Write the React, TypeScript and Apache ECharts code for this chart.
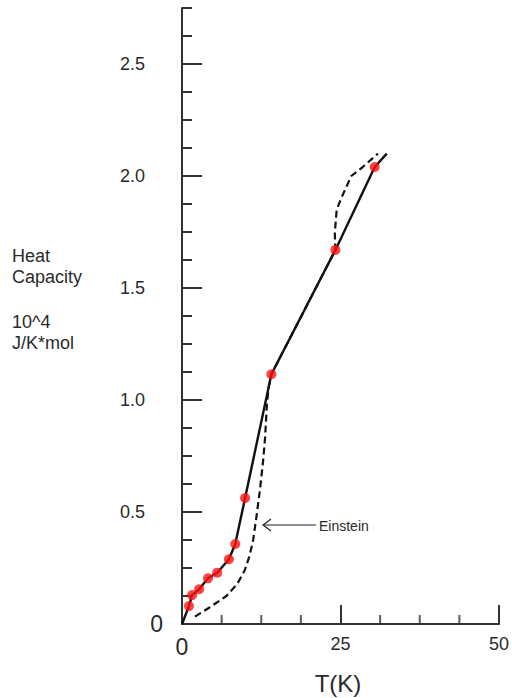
import React, { useEffect, useRef } from "react";
import * as echarts from "echarts";

// Measured heat capacity points (T in K, C in 10^4 J/K*mol)
const measuredT = [1.1, 1.6, 2.7, 4.1, 5.55, 7.4, 8.4, 9.95, 14.1, 24.2, 30.4];
const measuredC = [0.08, 0.129, 0.155, 0.204, 0.229, 0.289, 0.357, 0.5625, 1.115, 1.67, 2.04];

// Solid curve through the data
const fitT = [0, 1.1, 1.6, 2.7, 4.1, 5.55, 7.4, 8.4, 9.95, 14.1, 24.2, 30.4, 32.3];
const fitC = [0, 0.08, 0.129, 0.155, 0.204, 0.229, 0.289, 0.357, 0.5625, 1.115, 1.67, 2.04, 2.1];

// Einstein model (dashed)
const einT = [2.05, 4.4, 7.0, 8.7, 9.9, 10.6, 11.2, 11.7, 12.3, 12.8, 13.1, 13.4, 13.7, 14.1, 24.2, 24.1, 24.4, 25.1, 26.7, 28.5, 30.9];
const einC = [0.033, 0.075, 0.125, 0.178, 0.24, 0.3, 0.37, 0.47, 0.6, 0.73, 0.83, 0.985, 1.06, 1.115, 1.67, 1.744, 1.85, 1.9, 2.0, 2.04, 2.1];

// Axis ticks
const yMajorTicks = [0, 0.5, 1, 1.5, 2, 2.5];
const xMajorTicks = [0, 25, 50];
const xMinorTicks = [6.25, 12.5, 18.75, 31.25, 37.5, 43.75];

const FONT = "'Liberation Sans', Arial, sans-serif";
const TXT = "#2a2a2a";

export default function App() {
  const ref = useRef<HTMLDivElement>(null);

  useEffect(() => {
    if (!ref.current) return;
    const chart = echarts.init(ref.current, null, { renderer: "svg" });
    const zip = (a: number[], b: number[]) => a.map((v, i) => [v, b[i]]);

    chart.setOption({
      animation: false,
      backgroundColor: "#ffffff",
      grid: { left: 182, right: 12, top: 8, bottom: 74, containLabel: false },
      xAxis: [
        {
          type: "value",
          min: 0,
          max: 50,
          interval: 25,
          axisLine: { show: true, onZero: false, lineStyle: { color: "#333", width: 2 } },
          axisTick: { show: true, inside: true, length: 19, lineStyle: { color: "#333", width: 2 } },
          splitLine: { show: false },
          axisLabel: {
            margin: 11,
            color: TXT,
            fontFamily: FONT,
            formatter: (v: number) =>
              xMajorTicks.includes(v) ? (v === 0 ? "{z|0}" : "{n|" + v + "}") : "",
            rich: {
              z: { fontSize: 23, fontFamily: FONT, color: TXT },
              n: { fontSize: 18, fontFamily: FONT, color: TXT },
            },
          },
        },
      ],
      yAxis: [
        {
          type: "value",
          min: 0,
          max: 2.75,
          interval: 0.125,
          axisLine: { show: true, onZero: false, lineStyle: { color: "#333", width: 2 } },
          axisTick: { show: true, inside: true, length: 10, lineStyle: { color: "#333", width: 2 } },
          splitLine: { show: false },
          axisLabel: {
            margin: 19,
            color: TXT,
            fontFamily: FONT,
            formatter: (v: number) => {
              const m = yMajorTicks.find((t) => Math.abs(t - v) < 1e-6);
              if (m === undefined) return "";
              return m === 0 ? "{z|0}" : "{n|" + m.toFixed(1) + "}";
            },
            rich: {
              z: { fontSize: 23, fontFamily: FONT, color: TXT },
              n: { fontSize: 18, fontFamily: FONT, color: TXT, padding: [0, 18, 0, 0] },
            },
          },
        },
        {
          type: "value",
          min: 0,
          max: 2.75,
          position: "left",
          axisLine: { show: false, onZero: false },
          axisTick: {
            show: true,
            inside: true,
            length: 20,
            customValues: yMajorTicks,
            lineStyle: { color: "#333", width: 2 },
          },
          axisLabel: { show: false, customValues: yMajorTicks },
          splitLine: { show: false },
        },
      ],
      series: [
        {
          type: "scatter",
          name: "xMinorTicks",
          data: xMinorTicks.map((v) => [v, 0]),
          symbol: "rect",
          symbolSize: [2, 9],
          symbolOffset: [0, "-50%"],
          itemStyle: { color: "#333" },
          silent: true,
          clip: false,
          z: 1,
        },
        {
          type: "line",
          name: "Einstein",
          data: zip(einT, einC),
          showSymbol: false,
          symbol: "none",
          lineStyle: { color: "#111", width: 2.2, type: [7, 4] },
          z: 2,
        },
        {
          type: "line",
          name: "fit",
          data: zip(fitT, fitC),
          showSymbol: false,
          symbol: "none",
          lineStyle: { color: "#111", width: 2.4 },
          z: 3,
        },
        {
          type: "scatter",
          name: "measured",
          data: zip(measuredT, measuredC),
          symbol: "circle",
          symbolSize: 10,
          itemStyle: { color: "#ff1010" },
          z: 4,
        },
      ],
      graphic: [
        {
          type: "text",
          left: 12,
          top: 245,
          style: {
            text: "Heat\nCapacity",
            fontSize: 18,
            lineHeight: 21,
            fontFamily: FONT,
            fill: TXT,
          },
        },
        {
          type: "text",
          left: 12,
          top: 311,
          style: {
            text: "10^4\nJ/K*mol",
            fontSize: 18,
            lineHeight: 21,
            fontFamily: FONT,
            fill: TXT,
          },
        },
        {
          type: "text",
          x: 338,
          y: 683,
          style: {
            text: "T(K)",
            fontSize: 24,
            fontFamily: FONT,
            fill: TXT,
            align: "center",
            verticalAlign: "middle",
          },
        },
        {
          type: "line",
          shape: { x1: 263, y1: 525, x2: 316, y2: 525 },
          style: { stroke: "#222", lineWidth: 1.2 },
        },
        {
          type: "polyline",
          shape: { points: [[271, 519], [263, 525], [271, 531]] },
          style: { stroke: "#222", lineWidth: 1.2, fill: null },
        },
        {
          type: "text",
          x: 319,
          y: 526,
          style: {
            text: "Einstein",
            fontSize: 14,
            fontFamily: FONT,
            fill: TXT,
            verticalAlign: "middle",
          },
        },
      ],
    });

    return () => chart.dispose();
  }, []);

  return (
    <div
      ref={ref}
      style={{ position: "absolute", left: 0, top: 0, width: 512, height: 698 }}
    />
  );
}
